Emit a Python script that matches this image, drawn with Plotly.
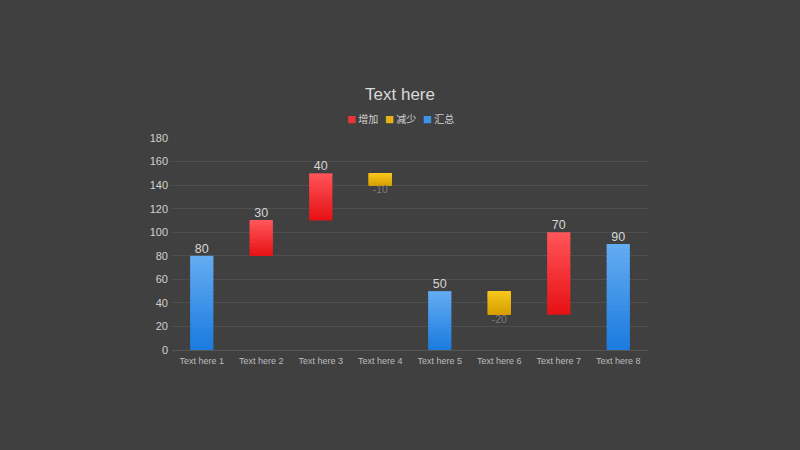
import plotly.graph_objects as go

categories = ["Text here 1", "Text here 2", "Text here 3", "Text here 4",
              "Text here 5", "Text here 6", "Text here 7", "Text here 8"]
values = [80, 30, 40, -10, 50, -20, 70, 90]
kinds = ["total", "inc", "inc", "dec", "total", "dec", "inc", "total"]

names = {"inc": "增加", "dec": "减少", "total": "汇总"}
grad = {  # top colour, bottom colour
    "inc": ((255, 84, 88), (232, 18, 22)),
    "dec": ((246, 198, 26), (214, 160, 0)),
    "total": ((100, 172, 242), (28, 124, 224)),
}
legend_col = {"inc": "#e83535", "dec": "#e8b414", "total": "#3f92ea"}

# waterfall bases/tops
bases, tops = [], []
running = 0
for v, k in zip(values, kinds):
    if k == "total":
        b, t = 0, v
        running = v
    elif v >= 0:
        b, t = running, running + v
        running = t
    else:
        b, t = running + v, running
        running = b
    bases.append(b)
    tops.append(t)

N = 24
BW = 0.39
fig = go.Figure()

for k in ["inc", "dec", "total"]:
    idx = [i for i, kk in enumerate(kinds) if kk == k]
    xs = [categories[i] for i in idx]
    (r1, g1, b1), (r0, g0, b0) = grad[k]
    for s in range(N):
        f = s / (N - 1)  # 0 bottom -> 1 top
        col = "rgb(%d,%d,%d)" % (r0 + (r1 - r0) * f, g0 + (g1 - g0) * f, b0 + (b1 - b0) * f)
        base = [bases[i] + (tops[i] - bases[i]) * s / N for i in idx]
        if s == N - 1:
            h = [(tops[i] - bases[i]) / N for i in idx]
        else:
            h = [(tops[i] - bases[i]) / N * 1.3 for i in idx]
        fig.add_trace(go.Bar(
            x=xs, y=h, base=base, width=BW, name=names[k],
            marker=dict(color=col, line=dict(width=0)),
            showlegend=False, hoverinfo="skip", legendgroup=k,
        ))

# labels
pos_x = [categories[i] for i, v in enumerate(values) if v >= 0]
pos_y = [tops[i] for i, v in enumerate(values) if v >= 0]
pos_t = [str(v) for v in values if v >= 0]
neg_x = [categories[i] for i, v in enumerate(values) if v < 0]
neg_y = [bases[i] for i, v in enumerate(values) if v < 0]
neg_t = [str(v) for v in values if v < 0]

fig.add_trace(go.Scatter(x=pos_x, y=pos_y, text=pos_t, mode="text",
                         textposition="top center", cliponaxis=False,
                         textfont=dict(size=12.5, color="#d6d6d6"),
                         showlegend=False, hoverinfo="skip"))
fig.add_trace(go.Scatter(x=neg_x, y=neg_y, text=neg_t, mode="text",
                         textposition="bottom center", cliponaxis=False,
                         textfont=dict(size=10.5, color="#7a7a7a"),
                         showlegend=False, hoverinfo="skip"))

# compact legend (as text with coloured squares)
legend_text = "&nbsp;&nbsp;&nbsp;".join(
    "<span style='color:%s;font-size:9px'>■</span>&nbsp;%s" % (legend_col[k], names[k])
    for k in ["inc", "dec", "total"]
)

fig.update_layout(
    width=800, height=450,
    paper_bgcolor="#404040", plot_bgcolor="#404040",
    font=dict(family="Liberation Sans, Arial, Noto Sans CJK SC", color="#d0d0d0"),
    barmode="overlay",
    showlegend=False,
    margin=dict(l=172, r=152, t=138, b=100),
    title=dict(text="Text here", x=0.5, xanchor="center", y=1 - 94 / 450,
               yanchor="middle", font=dict(size=17, color="#d9d9d9")),
    annotations=[dict(text=legend_text, x=0.481, xanchor="center", xref="paper",
                      y=1.094, yanchor="middle", yref="paper", showarrow=False,
                      font=dict(size=10, color="#d0d0d0",
                                family="Noto Sans CJK SC, Liberation Sans"))],
    xaxis=dict(type="category", categoryorder="array", categoryarray=categories,
               tickfont=dict(size=9, color="#bdbdbd"), showgrid=False,
               showline=True, linecolor="#555555", linewidth=1, ticks="",
               zeroline=False, range=[-0.5, 7.5], ticklabelstandoff=2),
    yaxis=dict(range=[0, 180], dtick=20, tickfont=dict(size=11, color="#d0d0d0"),
               showgrid=True, gridcolor="#4e4e4e", gridwidth=1, zeroline=False,
               showline=False, ticks="", ticklabelstandoff=3),
)

fig.write_html("out.html", config={"displayModeBar": False},
               post_script="document.body.style.margin='0';document.body.style.background='#404040';")
